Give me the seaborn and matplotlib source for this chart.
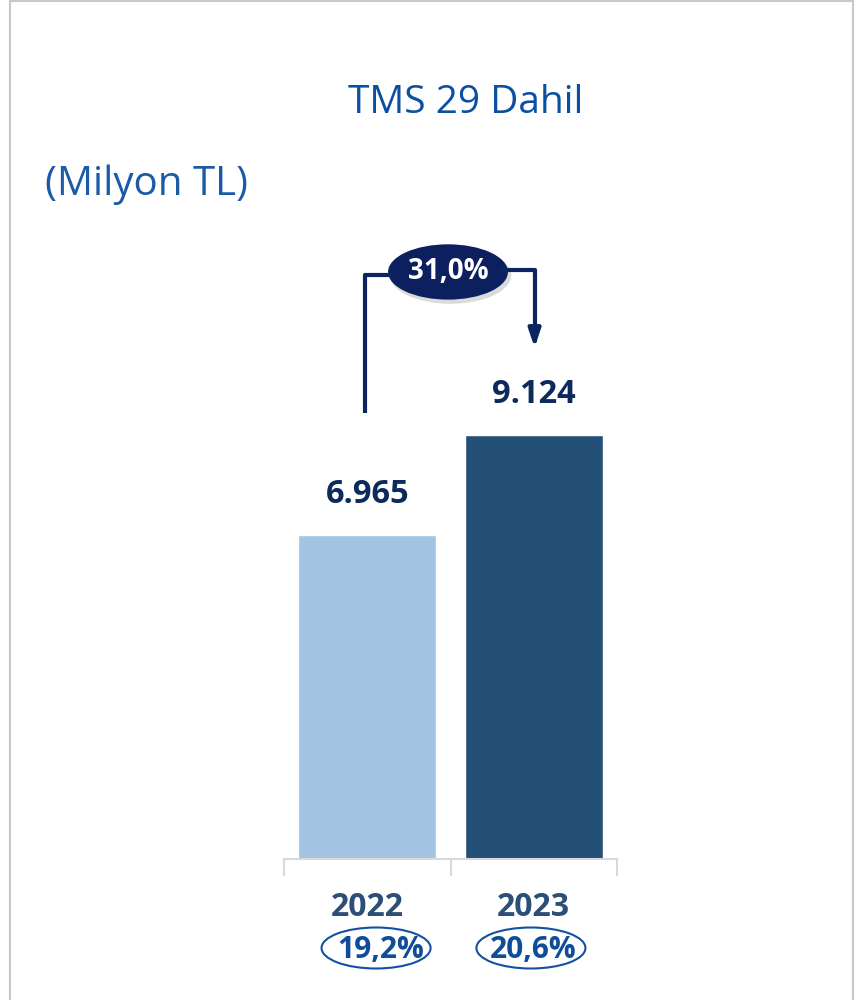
import matplotlib
matplotlib.use("Agg")
import matplotlib.pyplot as plt
import matplotlib.transforms as mtransforms
from matplotlib.patches import Ellipse, Rectangle
import seaborn as sns
import pandas as pd

# ---- data ----
years = ["2022", "2023"]
values = [6965, 9124]
value_labels = ["6.965", "9.124"]
ratio_labels = ["19,2%", "20,6%"]
growth_label = "31,0%"
bar_colors = ["#a3c4e2", "#244f76"]

df = pd.DataFrame({"year": years, "value": values})

sns.set_theme(style="white")
plt.rcParams["font.family"] = ["Open Sans", "DejaVu Sans"]

fig = plt.figure(figsize=(8.67, 10), dpi=100)
ax = fig.add_axes([284 / 867, 0.141, 333 / 867, 0.759])

sns.barplot(data=df, x="year", y="value", hue="year", palette=bar_colors,
            width=0.83, legend=False, ax=ax, saturation=1)
ax.set_xlim(-0.5, 1.5)
ax.set_ylim(0, 16330)
ax.set_xlabel("")
ax.set_ylabel("")
ax.set_yticks([])
for s in ["top", "right", "left"]:
    ax.spines[s].set_visible(False)
ax.spines["bottom"].set_color("#d9d9d9")
ax.spines["bottom"].set_linewidth(1.5)

# year labels + separator ticks
ax.set_xticks([0, 1])
ax.set_xticklabels(years, fontsize=23, fontweight="bold", color="#2b4f77")
ax.tick_params(axis="x", which="major", length=0, pad=23)
ax.set_xticks([-0.5, 0.5, 1.5], minor=True)
ax.tick_params(axis="x", which="minor", length=12, width=1.5, color="#d9d9d9",
               bottom=True)

# value labels above bars
for i, (v, lab) in enumerate(zip(values, value_labels)):
    ax.text(i, v + 880, lab, ha="center", va="center", fontsize=23.5,
            fontweight="bold", color="#0c2a5c")

# growth arrow
arrow_c = "#0c2461"
ax.plot([-0.014, -0.014, 0.15], [9600, 12560, 12560], color=arrow_c, lw=3,
        clip_on=False, solid_capstyle="butt")
ax.annotate("", xy=(1.005, 11000), xytext=(0.8, 12680),
            arrowprops=dict(arrowstyle="-|>,head_length=0.9,head_width=0.3",
                            connectionstyle="angle,angleA=0,angleB=90,rad=0",
                            color=arrow_c, lw=3, shrinkA=0, shrinkB=0),
            annotation_clip=False)
ax.add_patch(Ellipse((0.50, 12560), 0.73, 1230, facecolor="#b0b0b0",
                     edgecolor="none", alpha=0.45, clip_on=False))
ax.add_patch(Ellipse((0.485, 12630), 0.72, 1190, facecolor="#0c1f5e",
                     edgecolor="none", clip_on=False))
ax.text(0.485, 12630, growth_label, ha="center", va="center", fontsize=20,
        fontweight="bold", color="white")

# ratio ellipses under the years
blend = mtransforms.blended_transform_factory(ax.transData, fig.transFigure)
for i, lab in enumerate(ratio_labels):
    cx = [0.053, 0.983][i]
    tx = [0.08, 0.995][i]
    ax.add_patch(Ellipse((cx, 0.052), 0.655, 0.041, transform=blend,
                         facecolor="white", edgecolor="#1550a0", lw=1.5,
                         clip_on=False))
    ax.text(tx, 0.050, lab, transform=blend, ha="center", va="center",
            fontsize=21.5, fontweight="bold", color="#0f4c9a")

# titles
fig.text(466 / 867, 0.897, "TMS 29 Dahil", ha="center", va="center",
         fontsize=28, color="#0b4fa3")
fig.text(45 / 867, 0.815, "(Milyon TL)", ha="left", va="center",
         fontsize=29, color="#1a5aa6")

# outer frame
fig.patches.append(Rectangle((10 / 867, -0.01), 843 / 867, 1.009, fill=False,
                             edgecolor="#c8c8c8", lw=1.5,
                             transform=fig.transFigure, figure=fig))

fig.savefig("out.png", dpi=100)
